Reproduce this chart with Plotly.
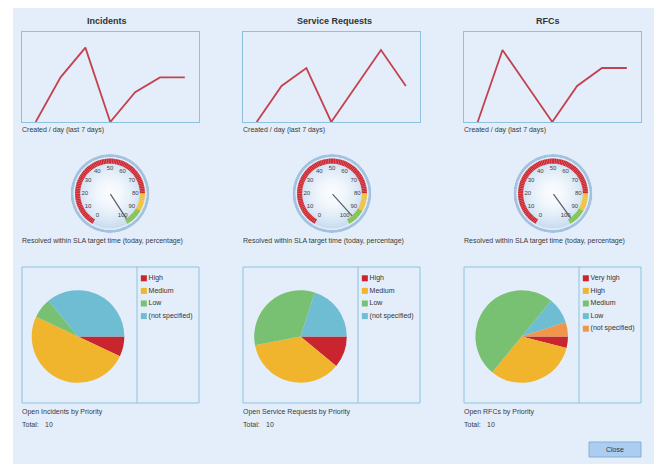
import plotly.graph_objects as go

W, H = 654, 464

# ---- data -------------------------------------------------------------
titles = ["Incidents", "Service Requests", "RFCs"]
day_index = [0, 1, 2, 3, 4, 5, 6]
inc_created = [0, 3, 5, 0, 2, 3, 3]
sr_created = [0, 2, 3, 0, 2, 4, 2]
rfc_created = [0, 4, 2, 0, 2, 3, 3]
created_ymax = [6.05, 5, 5]

sla_pct = [99, 96, 98]
gauge_ticks = [0, 10, 20, 30, 40, 50, 60, 70, 80, 90, 100]

inc_prio_labels = ["High", "Medium", "Low", "(not specified)"]
inc_prio_values = [0.7, 5.0, 0.7, 3.6]
sr_prio_labels = ["High", "Medium", "Low", "(not specified)"]
sr_prio_values = [1.1, 3.6, 3.3, 2.0]
rfc_prio_labels = ["Very high", "High", "Medium", "Low", "(not specified)"]
rfc_prio_values = [0.4, 3.2, 5.0, 0.9, 0.5]
open_captions = ["Open Incidents by Priority", "Open Service Requests by Priority",
                 "Open RFCs by Priority"]
open_totals = [10, 10, 10]

# ---- styling ----------------------------------------------------------
FONT = "Liberation Sans"
PANEL = "#E3EEFA"
FRAME = "#8CC2E0"
LINE = "#C4424F"
TXT = "#3A3A3A"
SLICE_COLORS = ["#C9252E", "#F0B52C", "#78C172", "#6FBDD3", "#F0964A"]


def fx(px):
    return px / W


def fy(py):
    return 1 - py / H


box_left = [22, 243, 464]
box_w = 177
line_top, line_bot = 32, 122
pie_top, pie_bot = 267, 403
divider_off = 115
pie_cx = [78, 300.5, 521.7]
pie_cy, pie_r = 336.5, 46.3
gauge_cx = [110, 332, 553]
gauge_cy, gauge_r = 193.5, 39.5
title_cx = [107, 334, 548]

created = [inc_created, sr_created, rfc_created]
prio_labels = [inc_prio_labels, sr_prio_labels, rfc_prio_labels]
prio_values = [inc_prio_values, sr_prio_values, rfc_prio_values]

fig = go.Figure()
layout = dict(
    width=W, height=H, margin=dict(l=0, r=0, t=0, b=0),
    paper_bgcolor="white", plot_bgcolor="rgba(0,0,0,0)",
    showlegend=False, font=dict(family=FONT, color=TXT, size=7),
)
shapes = [dict(type="rect", xref="paper", yref="paper", x0=fx(13), x1=1,
               y0=0, y1=fy(8), fillcolor=PANEL, line=dict(width=0), layer="below")]
annotations = []


def lerp_color(c0, c1, t):
    a = [int(c0[i:i + 2], 16) for i in (1, 3, 5)]
    b = [int(c1[i:i + 2], 16) for i in (1, 3, 5)]
    return "rgb(%d,%d,%d)" % tuple(round(a[k] + (b[k] - a[k]) * t) for k in range(3))


for c in range(3):
    L = box_left[c]
    # --- created per day line chart
    xa = "xaxis" if c == 0 else f"xaxis{c + 1}"
    ya = "yaxis" if c == 0 else f"yaxis{c + 1}"
    xr = "x" if c == 0 else f"x{c + 1}"
    yr = "y" if c == 0 else f"y{c + 1}"
    fig.add_trace(go.Scatter(x=day_index, y=created[c], mode="lines",
                             line=dict(color=LINE, width=1.8),
                             xaxis=xr, yaxis=yr, hoverinfo="skip"))
    layout[xa] = dict(domain=[fx(L), fx(L + box_w)], range=[-0.55, 6.57],
                      showgrid=False, zeroline=False, showticklabels=False,
                      ticks="", showline=True, mirror=True, linecolor=FRAME,
                      linewidth=1, anchor=yr, fixedrange=True)
    layout[ya] = dict(domain=[fy(line_bot), fy(line_top)], range=[0, created_ymax[c]],
                      showgrid=False, zeroline=False, showticklabels=False,
                      ticks="", showline=True, mirror=True, linecolor=FRAME,
                      linewidth=1, anchor=xr, fixedrange=True)

    annotations.append(dict(text=f"<b>{titles[c]}</b>", x=fx(title_cx[c]), y=fy(21),
                            xref="paper", yref="paper", showarrow=False,
                            font=dict(size=9, color="#333333"),
                            xanchor="center", yanchor="middle"))
    annotations.append(dict(text="Created / day (last 7 days)", x=fx(L - 2), y=fy(130),
                            xref="paper", yref="paper", showarrow=False,
                            xanchor="left", yanchor="middle"))

    # --- SLA gauge on a polar subplot
    pol = "polar" if c == 0 else f"polar{c + 1}"
    gx, gr = gauge_cx[c], gauge_r
    layout[pol] = dict(
        domain=dict(x=[fx(gx - gr), fx(gx + gr)], y=[fy(gauge_cy + gr), fy(gauge_cy - gr)]),
        bgcolor="rgba(0,0,0,0)", barmode="overlay", hole=0,
        radialaxis=dict(visible=False, range=[0, 1]),
        angularaxis=dict(visible=False, rotation=240, direction="clockwise",
                         thetaunit="degrees"),
    )
    # bezel
    for base, thick, col in [(0.92, 0.08, "#A2C2E0"), (0.885, 0.04, "#E2ECF7")]:
        fig.add_trace(go.Barpolar(theta=[90, 270], width=[180, 180], base=[base, base],
                                  r=[thick, thick], marker=dict(color=col, line=dict(width=0)),
                                  subplot=pol, hoverinfo="skip"))
    # face with a soft radial shading
    steps = 14
    for k in range(steps):
        r0 = 0.885 * k / steps
        col = lerp_color("#FBFDFF", "#C9DCF0", (k / (steps - 1)) ** 1.6)
        fig.add_trace(go.Barpolar(theta=[90, 270], width=[180, 180], base=[r0, r0],
                                  r=[0.885 / steps + 0.002] * 2,
                                  marker=dict(color=col, line=dict(width=0)),
                                  subplot=pol, hoverinfo="skip"))
    # colour band 0..100
    band_theta, band_col = [], []
    for v in range(100):
        band_theta.append((v + 0.5) * 3)
        band_col.append("#D0242C" if v < 80 else ("#F2C232" if v < 90 else "#7DC24A"))
    fig.add_trace(go.Barpolar(theta=band_theta, width=[3] * 100, base=[0.755] * 100,
                              r=[0.13] * 100,
                              marker=dict(color=band_col,
                                          line=dict(color="rgba(255,220,220,0.18)", width=0.4)),
                              subplot=pol, hoverinfo="skip"))
    # scale labels
    fig.add_trace(go.Scatterpolar(r=[0.64] * len(gauge_ticks), theta=[t * 3 for t in gauge_ticks],
                                  text=[str(t) for t in gauge_ticks], mode="text",
                                  textfont=dict(size=6, color="#444444"),
                                  subplot=pol, hoverinfo="skip"))
    # needle
    fig.add_trace(go.Scatterpolar(r=[0.02, 0.76], theta=[sla_pct[c] * 3] * 2, mode="lines",
                                  line=dict(color="#5A5F66", width=1.2),
                                  subplot=pol, hoverinfo="skip"))
    annotations.append(dict(text="Resolved within SLA target time (today, percentage)",
                            x=fx(L - 2), y=fy(241), xref="paper", yref="paper",
                            showarrow=False, xanchor="left", yanchor="middle"))

    # --- open items by priority: pie + legend list
    shapes.append(dict(type="rect", xref="paper", yref="paper", x0=fx(L), x1=fx(L + box_w),
                       y0=fy(pie_bot), y1=fy(pie_top), line=dict(color=FRAME, width=1)))
    shapes.append(dict(type="line", xref="paper", yref="paper", x0=fx(L + divider_off),
                       x1=fx(L + divider_off), y0=fy(pie_bot), y1=fy(pie_top),
                       line=dict(color=FRAME, width=1)))
    n = len(prio_labels[c])
    fig.add_trace(go.Pie(labels=prio_labels[c], values=prio_values[c], sort=False,
                         direction="clockwise", rotation=90, textinfo="none",
                         marker=dict(colors=SLICE_COLORS[:n], line=dict(width=0)),
                         domain=dict(x=[fx(pie_cx[c] - pie_r), fx(pie_cx[c] + pie_r)],
                                     y=[fy(pie_cy + pie_r), fy(pie_cy - pie_r)]),
                         hoverinfo="skip", showlegend=False))
    lx = f"x{c + 4}"
    ly = f"y{c + 4}"
    fig.add_trace(go.Scatter(x=[0] * n, y=list(range(n)), mode="markers+text",
                             text=prio_labels[c], textposition="middle right",
                             textfont=dict(size=7, color="#333333"),
                             marker=dict(symbol="square", size=6, color=SLICE_COLORS[:n]),
                             xaxis=lx, yaxis=ly, hoverinfo="skip", cliponaxis=False))
    lx0 = L + divider_off + 4
    layout[f"xaxis{c + 4}"] = dict(domain=[fx(lx0), fx(lx0 + 50)], range=[-0.06, 1],
                                   visible=False, fixedrange=True, anchor=ly)
    layout[f"yaxis{c + 4}"] = dict(domain=[fy(272 + 12.6 * 5), fy(272)], range=[4.5, -0.5],
                                   visible=False, fixedrange=True, anchor=lx)

    annotations.append(dict(text=open_captions[c], x=fx(L - 2), y=fy(412), xref="paper",
                            yref="paper", showarrow=False, xanchor="left", yanchor="middle"))
    annotations.append(dict(text="Total:", x=fx(L - 2), y=fy(424), xref="paper", yref="paper",
                            showarrow=False, xanchor="left", yanchor="middle"))
    annotations.append(dict(text=str(open_totals[c]), x=fx(L + 21), y=fy(424), xref="paper",
                            yref="paper", showarrow=False, xanchor="left", yanchor="middle"))

# Close button
shapes.append(dict(type="rect", xref="paper", yref="paper", x0=fx(589), x1=fx(641),
                   y0=fy(457), y1=fy(442), fillcolor="#AACDF1",
                   line=dict(color="#86AEDB", width=1)))
annotations.append(dict(text="Close", x=fx(615), y=fy(449.5), xref="paper", yref="paper",
                        showarrow=False, xanchor="center", yanchor="middle",
                        font=dict(size=7, color="#333333")))

layout["shapes"] = shapes
layout["annotations"] = annotations
fig.update_layout(**layout)
fig.write_html("out.html", config={"displayModeBar": False})
